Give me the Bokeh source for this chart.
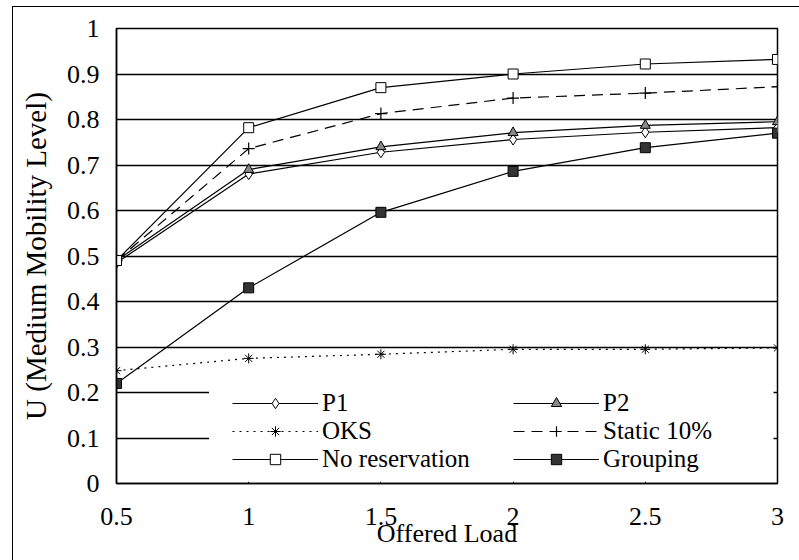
from bokeh.plotting import figure
from bokeh.models import Legend, LegendItem, BoxAnnotation, FixedTicker, Range1d, InlineStyleSheet
from bokeh.embed import file_html
from bokeh.resources import INLINE

load = [0.5, 1, 1.5, 2, 2.5, 3]
p1 = [0.485, 0.68, 0.728, 0.756, 0.772, 0.782]
p2 = [0.49, 0.69, 0.74, 0.771, 0.787, 0.795]
oks = [0.248, 0.275, 0.284, 0.295, 0.295, 0.298]
static10 = [0.49, 0.736, 0.813, 0.847, 0.858, 0.872]
nores = [0.49, 0.782, 0.87, 0.9, 0.922, 0.932]
grouping = [0.22, 0.43, 0.596, 0.686, 0.738, 0.77]

x_ticks = [0.5, 1, 1.5, 2, 2.5, 3]
x_tick_labels = ["0.5", "1", "1.5", "2", "2.5", "3"]
y_ticks = [0, 0.1, 0.2, 0.3, 0.4, 0.5, 0.6, 0.7, 0.8, 0.9, 1]
y_tick_labels = ["0", "0.1", "0.2", "0.3", "0.4", "0.5", "0.6", "0.7", "0.8", "0.9", "1"]

FONT = "Liberation Serif"

p = figure(width=799, height=560, output_backend="svg", toolbar_location=None,
           x_range=Range1d(0.5, 3), y_range=Range1d(0, 1),
           min_border_left=116, min_border_right=22, min_border_top=28, min_border_bottom=77)
p.background_fill_color = "white"
p.border_fill_color = "white"
p.outline_line_color = "black"
p.outline_line_width = 1.5

# outer border of the whole chart (only left and top edges are visible in the reference)
p.stylesheets = [InlineStyleSheet(css=(
    ":host { overflow: hidden; } "
    ":host::before { content: ''; position: absolute; left: 12px; top: 6px; "
    "width: 800px; height: 0; border: 0 none !important; "
    "border-top: 1.5px solid black !important; "
    "pointer-events: none; z-index: 100; } "
    ":host::after { content: ''; position: absolute; left: 12px; top: 6px; "
    "width: 0; height: 570px; border: 0 none !important; "
    "border-left: 1.5px solid black !important; "
    "pointer-events: none; z-index: 100; }"))]

p.xgrid.visible = False
p.ygrid.ticker = FixedTicker(ticks=y_ticks)
p.ygrid.grid_line_color = "black"
p.ygrid.grid_line_width = 1.5

p.xaxis.ticker = FixedTicker(ticks=x_ticks)
p.xaxis.major_label_overrides = dict(zip(x_ticks, x_tick_labels))
p.yaxis.ticker = FixedTicker(ticks=y_ticks)
p.yaxis.major_label_overrides = dict(zip(y_ticks, y_tick_labels))
for ax in (p.xaxis[0], p.yaxis[0]):
    ax.axis_line_color = "black"
    ax.axis_line_width = 1.5
    ax.major_tick_line_color = "black"
    ax.minor_tick_line_color = None
    ax.major_label_text_font = FONT
    ax.major_label_text_font_size = "26px"
    ax.major_label_text_color = "black"
    ax.axis_label_text_font = FONT
    ax.axis_label_text_font_style = "normal"
    ax.axis_label_text_color = "black"
p.xaxis.major_tick_in = 4
p.xaxis.major_tick_out = 0
p.yaxis.major_tick_in = 0
p.yaxis.major_tick_out = 0
p.xaxis.major_label_standoff = 24
p.yaxis.major_label_standoff = 17
p.xaxis.axis_label = "Offered Load"
p.xaxis.axis_label_text_font_size = "26px"
p.xaxis.axis_label_standoff = -9
p.yaxis.axis_label = "U (Medium Mobility Level)"
p.yaxis.axis_label_text_font_size = "29px"
p.yaxis.axis_label_standoff = 12

# white area behind legend
p.add_layout(BoxAnnotation(left=0.85, right=2.985, bottom=0.004, top=0.21,
                           fill_color="white", fill_alpha=1, line_alpha=0))

lw = 1.2
r_p1l = p.line(load, p1, line_color="black", line_width=lw)
r_p1m = p.scatter(load, p1, marker="diamond", size=11, fill_color="white", line_color="black")
r_p2l = p.line(load, p2, line_color="black", line_width=lw)
r_p2m = p.scatter(load, p2, marker="triangle", size=10, fill_color="#888888", line_color="black")
r_oksl = p.line(load, oks, line_color="black", line_width=lw, line_dash="2 5")
r_oksm = p.scatter(load, oks, marker="asterisk", size=10, line_color="black")
r_stl = p.line(load, static10, line_color="black", line_width=lw, line_dash="11 7")
r_stm = p.scatter(load, static10, marker="cross", size=12, line_color="black", line_width=1.2)
r_nrl = p.line(load, nores, line_color="black", line_width=lw)
r_nrm = p.scatter(load, nores, marker="square", size=10, fill_color="white", line_color="black")
r_grl = p.line(load, grouping, line_color="black", line_width=lw)
r_grm = p.scatter(load, grouping, marker="square", size=10, fill_color="#333333", line_color="black")

def mk_legend(items, loc):
    lg = Legend(items=items, location=loc, orientation="vertical",
                background_fill_alpha=0, border_line_alpha=0,
                padding=0, margin=0, spacing=0,
                label_height=26, glyph_height=26, glyph_width=86, label_standoff=4,
                label_text_font=FONT, label_text_font_size="25px", label_text_color="black")
    return lg

leg1 = mk_legend([LegendItem(label="P1", renderers=[r_p1l, r_p1m]),
                  LegendItem(label="OKS", renderers=[r_oksl, r_oksm]),
                  LegendItem(label="No reservation", renderers=[r_nrl, r_nrm])], (116, 10))
leg2 = mk_legend([LegendItem(label="P2", renderers=[r_p2l, r_p2m]),
                  LegendItem(label="Static 10%", renderers=[r_stl, r_stm]),
                  LegendItem(label="Grouping", renderers=[r_grl, r_grm])], (397, 10))
p.add_layout(leg1, "center")
p.add_layout(leg2, "center")

open("out.html", "w").write(file_html(p, INLINE))
